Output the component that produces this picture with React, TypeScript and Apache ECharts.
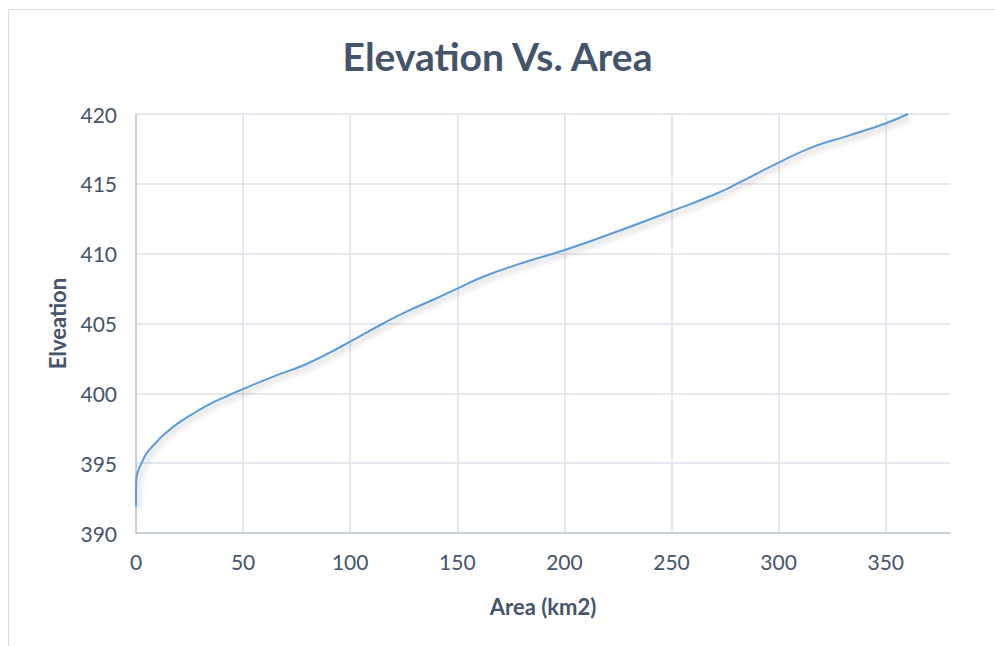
import React, { useEffect, useRef } from "react";
import * as echarts from "echarts";

const areaKm2 = [0, 0.1, 0.4, 1.1, 2.6, 4.5, 6.5, 9.5, 12.7, 20, 28.3, 36, 43.9, 50.1, 64.1, 79.6, 95.2, 115.4, 126.3, 138.7, 150, 162.1, 177.6, 200.2, 224.3, 249.2, 269.4, 281.8, 300.5, 316.1, 331.6, 349.5, 360.4];
const elevation = [391.9, 393.6, 394.1, 394.5, 395.0, 395.6, 396.0, 396.5, 397.0, 397.9, 398.7, 399.35, 399.9, 400.32, 401.2, 402.1, 403.3, 405.0, 405.85, 406.7, 407.5, 408.35, 409.2, 410.26, 411.57, 413.0, 414.2, 415.1, 416.55, 417.65, 418.4, 419.3, 420.0];

const titleText = "Elevation Vs. Area";
const xAxisTitle = "Area (km2)";
const yAxisTitle = "Elveation";

const FONT = "Lato, 'Open Sans', sans-serif";
const TEXT_COLOR = "#44546a";

export default function App() {
  const ref = useRef<HTMLDivElement>(null);
  useEffect(() => {
    if (!ref.current) return;
    const chart = echarts.init(ref.current, undefined, { renderer: "svg" });
    const data = areaKm2.map((a, i) => [a, elevation[i]]);
    chart.setOption({
      animation: false,
      backgroundColor: "#ffffff",
      title: {
        text: titleText,
        left: "center",
        top: 31,
        textStyle: { fontFamily: FONT, fontSize: 39, fontWeight: "bold", color: TEXT_COLOR },
      },
      graphic: [
        {
          type: "polyline",
          shape: { points: [[8.5, 646], [8.5, 9.5], [995, 9.5]] },
          style: { stroke: "#d9d9d9", fill: "none", lineWidth: 1 },
          silent: true,
        },
      ],
      grid: { left: 136, right: 45, top: 114, bottom: 113 },
      xAxis: {
        type: "value",
        min: 0,
        max: 380,
        interval: 50,
        name: xAxisTitle,
        nameLocation: "middle",
        nameGap: 62,
        nameTextStyle: { fontFamily: FONT, fontSize: 22, fontWeight: "bold", color: TEXT_COLOR },
        axisLine: { show: true, lineStyle: { color: "#bfc8d3", width: 1.5 } },
        axisTick: { show: false },
        axisLabel: {
          fontFamily: FONT,
          fontSize: 21,
          color: TEXT_COLOR,
          margin: 18,
          showMaxLabel: false,
        },
        splitLine: { show: true, showMaxLine: false, lineStyle: { color: "#dde2ea", width: 1.5 } },
      },
      yAxis: {
        type: "value",
        min: 390,
        max: 420,
        interval: 5,
        name: yAxisTitle,
        nameLocation: "middle",
        nameGap: 68,
        nameRotate: 90,
        nameTextStyle: { fontFamily: FONT, fontSize: 22, fontWeight: "bold", color: TEXT_COLOR },
        axisLine: { show: true, lineStyle: { color: "#bfc8d3", width: 1.5 } },
        axisTick: { show: false },
        axisLabel: { fontFamily: FONT, fontSize: 21, color: TEXT_COLOR, margin: 19 },
        splitLine: { show: true, lineStyle: { color: "#dde2ea", width: 1.5 } },
      },
      series: [
        {
          type: "line",
          data,
          showSymbol: false,
          smooth: 0.5,
          lineStyle: {
            color: "#5b9bd5",
            width: 2,
            shadowColor: "rgba(0,0,0,0.3)",
            shadowBlur: 6,
            shadowOffsetX: 2,
            shadowOffsetY: 3,
          },
          itemStyle: { color: "#5b9bd5" },
        },
      ],
    });
    return () => chart.dispose();
  }, []);
  return <div ref={ref} style={{ width: 995, height: 646, position: "absolute", left: 0, top: 0 }} />;
}
